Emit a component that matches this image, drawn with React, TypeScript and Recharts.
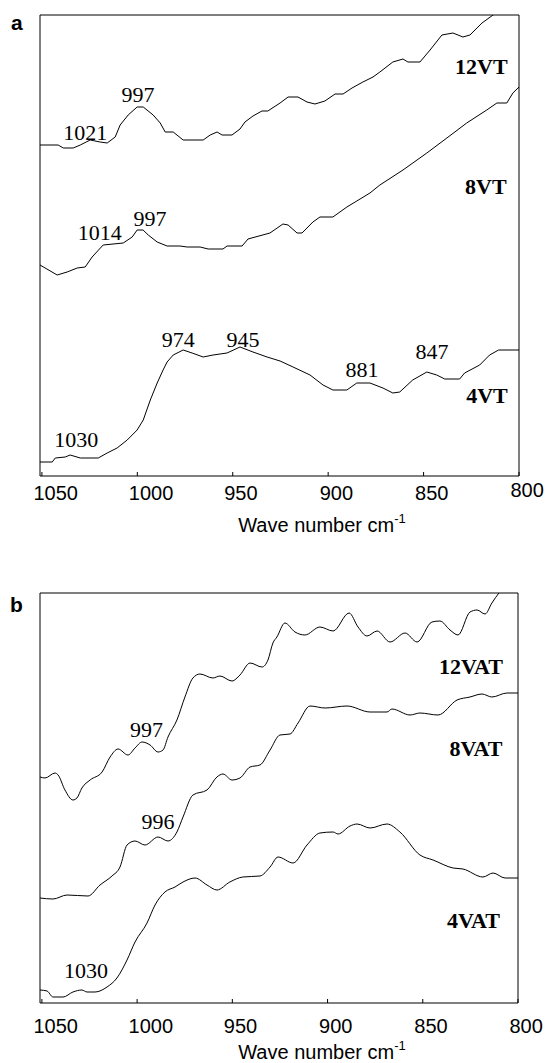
import React from 'react';
import { LineChart, Line, XAxis, YAxis, ReferenceArea, ReferenceDot } from 'recharts';

const wavenumberTicks = [1050, 1000, 950, 900, 850, 800];

// panel a: [wave number, relative absorbance]
const vt12: [number, number][] = [
  [1051, 331], [1041.5, 331], [1038.8, 328], [1033.6, 328], [1029.9, 331], [1024.7, 336],
  [1019.5, 334], [1015.8, 333], [1011.6, 339], [1009.0, 351], [1004.8, 361], [1000.1, 369],
  [996.9, 369], [991.7, 361], [988.0, 353], [985.4, 344], [981.2, 344], [976.0, 336],
  [965.5, 336], [961.8, 341], [958.2, 344], [955.6, 341], [950.4, 341], [946.2, 347],
  [943.6, 354], [939.4, 360], [934.7, 365], [931.6, 365], [925.2, 373], [921.0, 379],
  [915.8, 379], [911.1, 374], [906.9, 372], [901.7, 375], [896.4, 382], [892.2, 382],
  [887.5, 388], [881.8, 394], [876.5, 399], [872.9, 404], [866.1, 414], [860.8, 417],
  [858.2, 414], [851.9, 414], [846.6, 426], [840.4, 441], [834.6, 443], [829.4, 439],
  [825.7, 441], [819.4, 453], [813.6, 461], [807.4, 470], [800, 478],
];

const vt8: [number, number][] = [
  [1051, 211], [1042.0, 201], [1036.8, 204], [1031.5, 208], [1027.3, 209], [1023.7, 219],
  [1017.9, 231], [1007.4, 233], [1002.7, 239], [1000.1, 246], [997.0, 246], [994.3, 241],
  [989.6, 234], [984.4, 230], [977.6, 230], [973.9, 229], [967.1, 229], [962.9, 227],
  [955.1, 227], [953.0, 230], [945.1, 230], [942.0, 237], [930.5, 243], [923.7, 252],
  [921.0, 251], [916.3, 243], [913.7, 243], [908.0, 254], [904.3, 259], [897.5, 259],
  [890.2, 269], [885.0, 275], [878.1, 283], [872.9, 291], [860.8, 306], [848.3, 323],
  [837.8, 338], [827.4, 353], [816.9, 366], [811.6, 373], [806.4, 373], [803.2, 383],
  [800, 389],
];

const vt4: [number, number][] = [
  [1051, 14], [1044.6, 14], [1043.0, 18], [1037.8, 19], [1035.2, 21], [1029.9, 18],
  [1020.5, 18], [1015.8, 23], [1010.6, 28], [1005.3, 36], [1000.1, 46], [996.9, 56],
  [993.2, 76], [989.6, 93], [986.5, 106], [984.4, 114], [981.2, 121], [976.0, 126],
  [971.3, 123], [965.5, 119], [960.3, 121], [953.0, 123], [946.2, 129], [939.4, 124],
  [932.0, 119], [925.2, 115], [918.4, 109], [909.5, 101], [902.7, 91], [897.5, 86],
  [890.2, 86], [885.0, 93], [878.1, 93], [871.3, 88], [866.1, 83], [862.5, 84],
  [855.7, 96], [848.3, 104], [843.1, 101], [838.9, 97], [831.1, 97], [828.5, 103],
  [820.6, 111], [815.4, 121], [810.7, 126], [800, 126],
];

// panel b
const vat12: [number, number][] = [
  [1051, 226], [1048.4, 225], [1043.1, 230], [1041.5, 228], [1037.9, 213], [1033.7, 203],
  [1031.6, 205], [1029.0, 215], [1024.7, 223], [1018.4, 231], [1014.2, 246], [1010.0, 254],
  [1004.8, 248], [1001.1, 255], [997.4, 261], [993.2, 258], [989.0, 251], [986.4, 253],
  [983.8, 266], [979.1, 283], [974.9, 306], [970.7, 325], [967.0, 329], [960.2, 325],
  [956.5, 327], [950.2, 322], [946.0, 328], [940.7, 340], [934.4, 336], [931.3, 343],
  [928.7, 360], [926.6, 366], [922.4, 380], [917.1, 371], [911.9, 368], [904.0, 376],
  [897.1, 372], [888.7, 390], [884.0, 376], [879.3, 367], [874.0, 372], [867.2, 361],
  [859.3, 370], [853.0, 361], [845.2, 381], [841.0, 382], [835.7, 373], [831.5, 368],
  [825.2, 391], [821.5, 393], [817.3, 389], [813.7, 400], [810.0, 410], [804.2, 421],
  [800, 428],
];

const vat8: [number, number][] = [
  [1051, 105], [1044.2, 104], [1036.8, 108], [1025.8, 107], [1019.5, 118], [1013.2, 127],
  [1009.0, 136], [1005.3, 158], [1001.1, 162], [995.9, 158], [989.0, 166], [983.8, 162],
  [979.1, 171], [975.9, 186], [970.7, 208], [963.3, 213], [958.1, 226], [954.9, 229],
  [950.2, 223], [946.0, 225], [940.7, 236], [935.5, 238], [930.2, 253], [925.0, 268],
  [919.7, 269], [915.5, 280], [909.2, 297], [901.3, 295], [889.8, 297], [877.7, 291],
  [868.8, 291], [866.2, 294], [856.7, 288], [851.5, 290], [842.0, 288], [832.0, 303],
  [825.2, 306], [818.9, 309], [813.7, 306], [805.8, 310], [800, 310],
];

const vat4: [number, number][] = [
  [1051, 13], [1047.3, 12], [1044.2, 6], [1038.9, 6], [1033.7, 11], [1029.0, 13],
  [1026.3, 11], [1022.1, 11], [1015.8, 16], [1010.6, 25], [1005.3, 43], [1001.1, 61],
  [994.8, 80], [990.6, 98], [985.4, 111], [980.1, 116], [975.9, 121], [969.6, 125],
  [963.3, 118], [958.1, 113], [951.3, 121], [944.5, 126], [935.5, 127], [930.2, 136],
  [926.0, 146], [918.1, 140], [910.8, 158], [904.0, 170], [897.1, 171], [894.5, 169],
  [888.2, 177], [884.5, 179], [877.7, 175], [868.8, 179], [862.0, 171], [851.5, 148],
  [844.6, 143], [834.1, 135], [828.9, 134], [818.4, 126], [813.1, 130], [806.8, 125],
  [800, 125],
];

// peak labels: text, wave number, absorbance
const peaksA: [string, number, number][] = [
  ['1021', 1027.3, 343.5], ['997', 999.6, 381.5], ['1014', 1019.7, 243.5],
  ['997', 993.3, 257.5], ['974', 978.6, 136.5], ['945', 944.6, 136.5],
  ['1030', 1032.0, 36.5], ['881', 882.3, 106.5], ['847', 845.6, 124.5],
];
const namesA: [string, number, number][] = [
  ['12VT', 819.7, 410.3], ['8VT', 817.4, 290.3], ['4VT', 816.8, 81.3],
];
const peaksB: [string, number, number][] = [
  ['997', 995.1, 273.5], ['996', 989.0, 181.5], ['1030', 1026.8, 32.5],
];
const namesB: [string, number, number][] = [
  ['12VAT', 824.7, 337.3], ['8VAT', 822.1, 255.3], ['4VAT', 823.4, 83.3],
];

const serif = '"Liberation Serif", "Times New Roman", serif';
const sans = '"Liberation Sans", Arial, sans-serif';

const toRows = (pts: [number, number][]) => pts.map(([wn, abs]) => ({ wn, abs }));

// inward tick mark plus a label that starts a little left of the tick
const AxisTick = (props: any) => {
  const { x, y, payload, gap, lift } = props;
  const dy = lift && payload.value === 800 ? gap - 3 : gap;
  return (
    <g>
      <line x1={x} x2={x} y1={y} y2={y - 4} stroke="#000" />
      <text x={x - 8.5} y={y + dy} fontFamily={sans} fontSize={20} fill="#000">
        {payload.value}
      </text>
    </g>
  );
};

interface PanelProps {
  top: number;
  height: number;
  margin: { top: number; right: number; bottom: number; left: number };
  maxAbs: number;
  series: [number, number][][];
  peaks: [string, number, number][];
  names: [string, number, number][];
  smooth: boolean;
  gap: number;
  lift: boolean;
}

const Panel = ({ top, height, margin, maxAbs, series, peaks, names, smooth, gap, lift }: PanelProps) => (
  <div style={{ position: 'absolute', left: 0, top }}>
    <LineChart width={546} height={height} margin={margin}>
      <XAxis
        type="number"
        dataKey="wn"
        domain={[800, 1051]}
        reversed
        allowDataOverflow
        ticks={wavenumberTicks}
        interval={0}
        height={40}
        tickSize={0}
        tickMargin={0}
        axisLine={false}
        tickLine={false}
        tick={<AxisTick gap={gap} lift={lift} />}
      />
      <YAxis type="number" domain={[0, maxAbs]} allowDataOverflow hide width={0} />
      <ReferenceArea x1={800} x2={1051} y1={0} y2={maxAbs} fill="none" stroke="#000" strokeWidth={1} />
      {series.map((pts, i) => (
        <Line
          key={i}
          data={toRows(pts)}
          dataKey="abs"
          type={smooth ? 'monotone' : 'linear'}
          stroke="#000"
          strokeWidth={1}
          dot={false}
          isAnimationActive={false}
        />
      ))}
      {peaks.map(([text, wn, abs], i) => (
        <ReferenceDot
          key={'p' + i}
          x={wn}
          y={abs}
          r={0}
          fill="none"
          stroke="none"
          label={{ value: text, position: 'center', fontFamily: serif, fontSize: 22, fill: '#000' }}
        />
      ))}
      {names.map(([text, wn, abs], i) => (
        <ReferenceDot
          key={'n' + i}
          x={wn}
          y={abs}
          r={0}
          fill="none"
          stroke="none"
          label={{ value: text, position: 'center', fontFamily: serif, fontSize: 22, fontWeight: 'bold', fill: '#000' }}
        />
      ))}
    </LineChart>
  </div>
);

const AxisTitle = ({ y }: { y: number }) => (
  <text x={322} y={y} textAnchor="middle" fontFamily={sans} fontSize={20} fill="#000">
    Wave number cm
    <tspan dy={-9} fontSize={13}>-1</tspan>
  </text>
);

export default function App() {
  return (
    <div style={{ position: 'absolute', left: 0, top: 0, width: 546, height: 1063, background: '#fff' }}>
      <Panel
        top={0}
        height={560}
        margin={{ top: 15, right: 27, bottom: 44, left: 40 }}
        maxAbs={461}
        series={[vt12, vt8, vt4]}
        peaks={peaksA}
        names={namesA}
        smooth={false}
        gap={24}
        lift
      />
      <Panel
        top={560}
        height={503}
        margin={{ top: 33, right: 28, bottom: 20, left: 40 }}
        maxAbs={410}
        series={[vat12, vat8, vat4]}
        peaks={peaksB}
        names={namesB}
        smooth
        gap={30}
        lift={false}
      />
      <svg width={546} height={1063} style={{ position: 'absolute', left: 0, top: 0, pointerEvents: 'none' }}>
        <text x={11} y={30} fontFamily={sans} fontSize={21} fontWeight="bold" fill="#000">a</text>
        <text x={10} y={612} fontFamily={sans} fontSize={21} fontWeight="bold" fill="#000">b</text>
        <AxisTitle y={532} />
        <AxisTitle y={1059} />
      </svg>
    </div>
  );
}
